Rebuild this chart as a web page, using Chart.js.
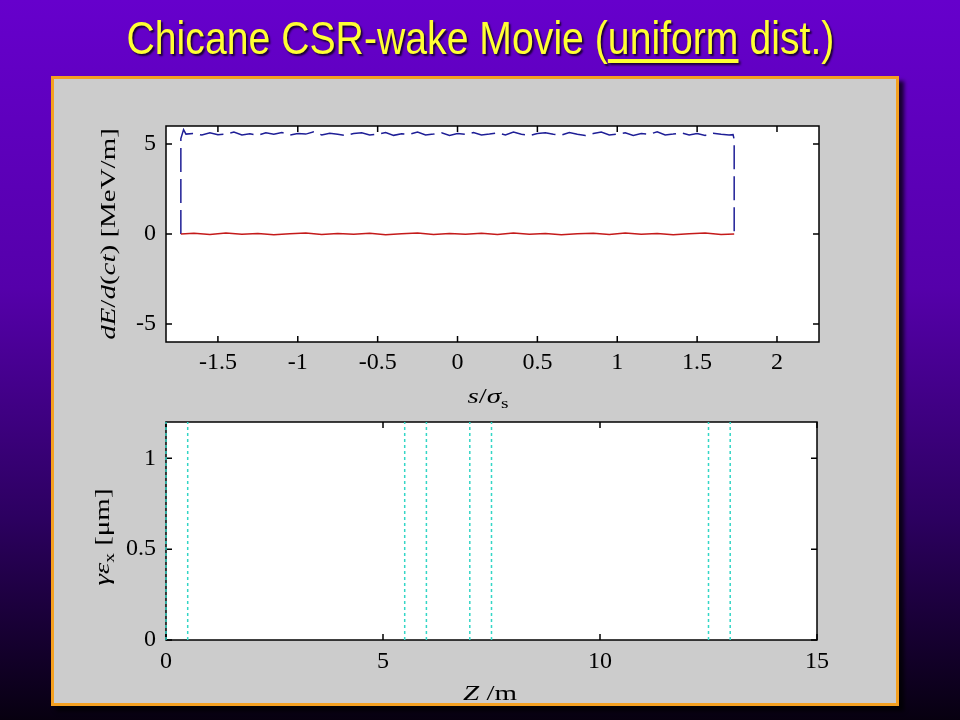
<!DOCTYPE html>
<html>
<head>
<meta charset="utf-8">
<script src="https://cdn.jsdelivr.net/npm/chart.js@4.4.0/dist/chart.umd.min.js"></script>
<style>
html, body { margin: 0; padding: 0; }
body {
  width: 960px; height: 720px; position: relative; overflow: hidden;
  background: linear-gradient(to bottom, #6600cc 0%, #5500aa 40%, #2c0060 72%, #070010 100%);
  font-family: "Liberation Serif", serif;
}
#title {
  position: absolute; left: 0; top: 12px; width: 960px; text-align: center;
  font-family: "Liberation Sans Narrow", "Liberation Sans", Arial, sans-serif;
  font-size: 46px; line-height: 52px; color: #ffff33; white-space: nowrap;
  text-shadow: 2px 2px 2px #1a0033;
}
#title span.t { display: inline-block; transform-origin: center; }
#title u { text-decoration-thickness: 4px; text-underline-offset: 5px; }
#panel {
  position: absolute; left: 51px; top: 76px; width: 848px; height: 630px;
  box-sizing: border-box; border: 3px solid #f4a020; background: #cccccc;
  box-shadow: 5px 5px 4px rgba(0,0,0,0.75);
}
canvas { position: absolute; }
.lab { position: absolute; font-size: 21px; color: #000; white-space: nowrap; transform: translate(-50%, -50%) scaleX(1.38); }
.lab.rot { transform: translate(-50%, -50%) rotate(-90deg) scaleX(1.38); }
.lab sub { font-size: 14px; }
</style>
</head>
<body>
<div id="title"><span class="t">Chicane CSR-wake Movie (<u>uniform</u> dist.)</span></div>
<div id="panel"></div>
<canvas id="topChart" width="760" height="280" style="left:80px;top:110px;width:760px;height:280px"></canvas>
<canvas id="botChart" width="760" height="300" style="left:80px;top:400px;width:760px;height:300px"></canvas>
<div class="lab" style="left:488px;top:398px"><i>s</i>/<i>σ</i><sub>s</sub></div>
<div class="lab rot" style="left:108px;top:234px"><i>dE</i>/<i>d</i>(<i>ct</i>) [MeV/m]</div>
<div class="lab" style="left:490px;top:693px"><i>Z</i> /m</div>
<div class="lab rot" style="left:104px;top:537px"><i>γε</i><sub>x</sub> [μm]</div>
<script>
// wake along the bunch (uniform dist., half width sqrt(3) sigma)
const blueS = [
  -1.732, -1.732, -1.715, -1.70, -1.65, -1.60, -1.55, -1.50, -1.45, -1.40,
  -1.35, -1.30, -1.25, -1.20, -1.15, -1.10, -1.05, -1.00, -0.95, -0.90,
  -0.85, -0.80, -0.75, -0.70, -0.65, -0.60, -0.55, -0.50, -0.45, -0.40,
  -0.35, -0.30, -0.25, -0.20, -0.15, -0.10, -0.05, 0.00, 0.05, 0.10,
  0.15, 0.20, 0.25, 0.30, 0.35, 0.40, 0.45, 0.50, 0.55, 0.60,
  0.65, 0.70, 0.75, 0.80, 0.85, 0.90, 0.95, 1.00, 1.05, 1.10,
  1.15, 1.20, 1.25, 1.30, 1.35, 1.40, 1.45, 1.50, 1.55, 1.60,
  1.65, 1.70, 1.725, 1.732, 1.732
];
const blueE = [
  0, 5.30, 5.80, 5.55, 5.58, 5.50, 5.62, 5.52, 5.55, 5.66,
  5.50, 5.57, 5.48, 5.62, 5.54, 5.64, 5.50, 5.58, 5.55, 5.68,
  5.50, 5.60, 5.54, 5.47, 5.58, 5.62, 5.50, 5.55, 5.64, 5.48,
  5.57, 5.54, 5.66, 5.50, 5.55, 5.62, 5.48, 5.58, 5.54, 5.64,
  5.50, 5.55, 5.62, 5.50, 5.66, 5.54, 5.47, 5.58, 5.62, 5.54,
  5.50, 5.64, 5.54, 5.47, 5.58, 5.66, 5.50, 5.55, 5.62, 5.48,
  5.58, 5.54, 5.68, 5.50, 5.55, 5.62, 5.50, 5.58, 5.48, 5.60,
  5.54, 5.50, 5.52, 5.25, 0
];
const redS = [
  -1.732, -1.65, -1.55, -1.45, -1.35, -1.25, -1.15, -1.05, -0.95, -0.85,
  -0.75, -0.65, -0.55, -0.45, -0.35, -0.25, -0.15, -0.05, 0.05, 0.15,
  0.25, 0.35, 0.45, 0.55, 0.65, 0.75, 0.85, 0.95, 1.05, 1.15,
  1.25, 1.35, 1.45, 1.55, 1.65, 1.732
];
const redE = [
  0.00, 0.04, -0.03, 0.05, -0.02, 0.03, -0.04, 0.02, 0.05, -0.03,
  0.03, -0.02, 0.04, -0.04, 0.02, 0.05, -0.03, 0.03, -0.02, 0.04,
  -0.03, 0.05, -0.02, 0.03, -0.04, 0.02, 0.04, -0.03, 0.05, -0.02,
  0.03, -0.04, 0.02, 0.05, -0.03, 0.00
];
// dipole edges along the chicane [m]
const magnetEdges = [0, 0.5, 5.5, 6, 7, 7.5, 12.5, 13];

const topXTicks = [-1.5, -1, -0.5, 0, 0.5, 1, 1.5, 2];
const topYTicks = [-5, 0, 5];
const botXTicks = [0, 5, 10, 15];
const botYTicks = [0, 0.5, 1];

// fit the title into its width
const t = document.querySelector('#title .t');
t.style.transform = 'scaleX(' + (708 / t.offsetWidth) + ')';

// white plot box, black frame and inward ticks on all four sides
const frame = {
  id: 'frame',
  beforeDatasetsDraw(chart) {
    const { ctx, chartArea: a, scales } = chart;
    ctx.save();
    ctx.fillStyle = '#ffffff';
    ctx.fillRect(a.left, a.top, a.right - a.left, a.bottom - a.top);
    ctx.strokeStyle = '#000';
    ctx.lineWidth = 1.5;
    ctx.strokeRect(a.left, a.top, a.right - a.left, a.bottom - a.top);
    ctx.beginPath();
    scales.x.ticks.forEach(tk => {
      const p = scales.x.getPixelForValue(tk.value);
      ctx.moveTo(p, a.bottom); ctx.lineTo(p, a.bottom - 6);
      ctx.moveTo(p, a.top); ctx.lineTo(p, a.top + 6);
    });
    scales.y.ticks.forEach(tk => {
      const p = scales.y.getPixelForValue(tk.value);
      ctx.moveTo(a.left, p); ctx.lineTo(a.left + 6, p);
      ctx.moveTo(a.right, p); ctx.lineTo(a.right - 6, p);
    });
    ctx.stroke();
    ctx.restore();
  }
};

function axis(min, max, tickList, size, pad) {
  return {
    type: 'linear', min: min, max: max,
    grid: { display: false, drawTicks: false },
    border: { display: false },
    ticks: {
      color: '#000', padding: pad,
      font: { family: 'Liberation Serif', size: 24 },
      callback: v => String(v)
    },
    afterBuildTicks: s => { s.ticks = tickList.map(v => ({ value: v })); },
    afterFit: s => {
      if (s.isHorizontal()) s.height = size; else s.width = size;
      s.paddingTop = 0; s.paddingBottom = 0;
      s.paddingLeft = 0; s.paddingRight = 0;
    }
  };
}

function line(xs, ys, color, dash) {
  return {
    data: xs.map((x, i) => ({ x: x, y: ys[i] })),
    showLine: true, pointRadius: 0, borderWidth: 1.5,
    borderColor: color, borderDash: dash, fill: false
  };
}

new Chart(document.getElementById('topChart'), {
  type: 'scatter',
  data: {
    datasets: [
      line(redS, redE, '#c41a1a', []),
      line(blueS, blueE, '#1e1e96', [24, 7])
    ]
  },
  options: {
    responsive: false, animation: false,
    layout: { padding: { top: 16, right: 21, left: 0, bottom: 0 } },
    plugins: { legend: { display: false }, tooltip: { enabled: false } },
    scales: {
      x: axis(-1.825, 2.263, topXTicks, 48, 6),
      y: axis(-6, 6, topYTicks, 86, 10)
    }
  },
  plugins: [frame]
});

new Chart(document.getElementById('botChart'), {
  type: 'scatter',
  data: {
    datasets: magnetEdges.map(z => Object.assign(
      line([z, z], [0, 1.2], '#33d6c6', [3, 3]), { clip: false }))
  },
  options: {
    responsive: false, animation: false,
    layout: { padding: { top: 22, right: 23, left: 0, bottom: 0 } },
    plugins: { legend: { display: false }, tooltip: { enabled: false } },
    scales: {
      x: axis(0, 15, botXTicks, 60, 7),
      y: axis(0, 1.2, botYTicks, 86, 10)
    }
  },
  plugins: [frame]
});
</script>
</body>
</html>
